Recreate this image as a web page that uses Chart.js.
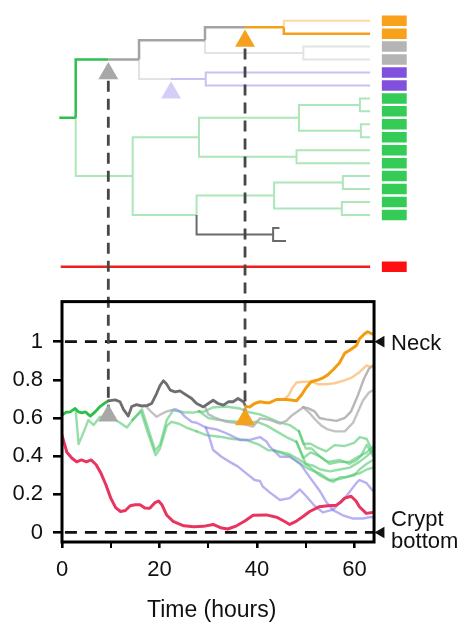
<!DOCTYPE html>
<html><head><meta charset="utf-8">
<script src="https://cdn.jsdelivr.net/npm/chart.js@4.4.1/dist/chart.umd.min.js"></script>
<style>html,body{margin:0;padding:0;background:#fff;overflow:hidden}canvas{display:block}</style>
</head><body>
<canvas id="c" width="474" height="636"></canvas>
<script>
// ================= DATA =================
const X_TICKS = [0, 10, 20, 30, 40, 50, 60];
const X_LABELS = [0, 20, 40, 60];
const Y_TICKS = [0, 0.2, 0.4, 0.6, 0.8, 1];
const REF_LEVELS = [1, 0];
const REF_LABELS = ['Neck', 'Crypt\nbottom'];
const X_TITLE = 'Time (hours)';

// lineage tree: parent index, branching time (h), leaf row, lineage kind
const nodeParent = [-1, 0, 1, 2, 3, 4, 5, 5, 3, 8, 8, 2, 11, 12, 12,
  0, 15, 16, 17, 18, 18, 17, 21, 21, 16, 24, 24, 15, 27, 28, 29, 29, 28, 32, 32, 27, 35, 35];
const nodeTime = [2.81, 9.5, 15.8, 29.33, 37.54, 45.5, 63.2, 63.2, 49.5, 63.2, 63.2, 22.36, 29.48, 63.2, 63.2,
  14.5, 28.1, 48.6, 61.1, 63.2, 63.2, 61.3, 63.2, 63.2, 48.1, 63.2, 63.2, 27.6, 43.5, 57.6, 63.2, 63.2, 57.4, 63.2, 63.2, 43.3, 44.6, 45.95];
const nodeRow = [null, null, null, null, null, null, 0, 1, null, 2, 3, null, null, 4, 5,
  null, null, null, null, 6, 7, null, 8, 9, null, 10, 11, null, null, null, 12, 13, null, 14, 15, null, 16, 17];
const nodeKind = ['dg', 'dg', 'grey', 'grey', 'grey', 'orange', 'lorange', 'orange', 'lgrey', 'lgrey', 'lgrey', 'lgrey', 'lav', 'lav', 'lav',
  'lgreen', 'lgreen', 'lgreen', 'lgreen', 'lgreen', 'lgreen', 'lgreen', 'lgreen', 'lgreen', 'lgreen', 'lgreen', 'lgreen',
  'lgreen', 'lgreen', 'lgreen', 'lgreen', 'lgreen', 'lgreen', 'lgreen', 'lgreen', 'dgrey', 'dgrey', 'dgrey'];
const ROOT_START = -0.55;
const RED_ROW = 19, RED_START = -0.27, RED_END = 63.2;
const TRIANGLE_NODES = [1, 11, 4];        // colour change points (grey, lavender, orange)
const TRIANGLE_KIND = ['grey', 'lav', 'orange'];

// lower panel: relative position along crypt axis vs time
const redTrack = [[0,0.51],[1,0.42],[2,0.39],[3,0.37],[4,0.38],[5,0.37],[6,0.38],[7,0.355],[8,0.31],[9,0.25],[10,0.18],[11,0.13],[12,0.11],[13,0.115],[14,0.14],[15,0.145],[16,0.145],[17,0.128],[18,0.127],[19,0.155],[19.8,0.165],[20.5,0.145],[21.5,0.09],[22.8,0.058],[24,0.045],[25,0.035],[27,0.03],[29,0.032],[31,0.042],[32.5,0.025],[34,0.018],[35.8,0.035],[37.5,0.06],[39.2,0.09],[41.9,0.092],[44,0.08],[45.5,0.06],[46.7,0.042],[48,0.058],[49.5,0.085],[50.8,0.11],[52.8,0.135],[54.5,0.14],[56.2,0.142],[57.2,0.16],[58,0.18],[59.3,0.19],[60.3,0.165],[61,0.135],[62.4,0.10],[63.7,0.105]];
const rootTrack = [[0,0.615],[0.8,0.63],[1.7,0.632],[2.7,0.65],[3.4,0.632],[4.1,0.627],[4.8,0.632],[5.8,0.61],[6.8,0.632],[7.8,0.66],[8.9,0.68],[9.5,0.69]];
const greyTrunk = [[9.5,0.69],[10.9,0.695],[11.9,0.685],[12.6,0.645],[13.6,0.61],[14.3,0.66],[15.3,0.67],[16.4,0.662],[17.4,0.665],[18.4,0.676],[19.4,0.728],[20.1,0.77],[20.8,0.795],[21.4,0.78],[22.2,0.746],[23.2,0.737],[24.2,0.742],[25.2,0.725],[26.6,0.702],[27.6,0.676],[29,0.658],[30,0.676],[31,0.693],[32,0.676],[33.1,0.667],[34.1,0.685],[35.1,0.685],[36.1,0.702],[37.2,0.685],[37.7,0.66]];
const orangeTrack = [[37.7,0.66],[38.5,0.658],[39.5,0.676],[40.6,0.685],[41.9,0.68],[42.6,0.68],[44,0.697],[46,0.697],[48.1,0.69],[49.1,0.72],[50.1,0.76],[51.1,0.79],[52.5,0.80],[53.5,0.81],[54.5,0.826],[55.6,0.853],[56.9,0.888],[58,0.94],[59,0.955],[60.4,0.98],[61,1.015],[62,1.04],[62.7,1.052],[63.7,1.04]];
const lightOrangeTrack = [[45.5,0.697],[46.5,0.72],[47.3,0.76],[48.1,0.786],[49.4,0.79],[51.1,0.79],[52.5,0.777],[54.2,0.777],[55.9,0.782],[57.6,0.795],[59.3,0.81],[61,0.84],[62.4,0.875],[63.6,0.866]];
const paleGreyTrack = [[15.8,0.665],[17,0.667],[18.2,0.635],[19.4,0.606],[20.3,0.62],[21.5,0.635],[22.36,0.64]];
const lavTrunk = [[22.36,0.64],[23.2,0.646],[24.2,0.635],[25.2,0.607],[26.6,0.58],[27.6,0.575],[28.6,0.562],[29.5,0.55]];
const lavTrack1 = [[29.5,0.55],[30.2,0.5],[31,0.432],[32.7,0.397],[34.4,0.37],[36.1,0.345],[37.8,0.31],[39.5,0.275],[40.6,0.27],[41.2,0.24],[42.6,0.21],[44.7,0.17],[46.7,0.18],[48.8,0.225],[50.1,0.19],[51.8,0.14],[53.5,0.105],[55.6,0.12],[58.3,0.19],[60.4,0.26],[61,0.275],[62.4,0.26],[63.7,0.22]];
const lavTrack2 = [[29.5,0.55],[31.7,0.54],[33.7,0.52],[36.5,0.485],[38.5,0.485],[40.6,0.50],[42,0.475],[42.6,0.45],[44.7,0.397],[46.7,0.397],[48.8,0.362],[50.8,0.29],[52.8,0.22],[54.2,0.16],[55.6,0.117],[57.6,0.09],[59.7,0.073],[61.7,0.073],[63.1,0.08],[63.8,0.08]];
const greyTrunk2 = [[29.33,0.66],[30,0.62],[31.5,0.60],[33.7,0.58],[36.5,0.572],[39.2,0.555],[40.6,0.598],[42.6,0.59],[44.7,0.57],[46,0.585],[47,0.61],[49.5,0.656]];
const greyTrackA = [[49.5,0.656],[50.4,0.652],[51.8,0.635],[52.8,0.60],[54.2,0.593],[56.3,0.585],[58,0.60],[59.3,0.635],[60.7,0.72],[62,0.81],[63,0.86],[63.8,0.875]];
const greyTrackB = [[49.5,0.656],[50.8,0.625],[52,0.59],[53.2,0.56],[54.5,0.54],[56,0.53],[58,0.53],[59.7,0.575],[61.7,0.69],[63,0.735],[63.8,0.745]];
const greenEarly = [[2.81,0.64],[3.4,0.463],[4.5,0.53],[5.4,0.589],[6.5,0.563],[7.8,0.606],[9,0.605],[10.3,0.6],[11.9,0.575],[13.3,0.55],[14.5,0.59]];
const greenA1 = [[14.5,0.59],[16.4,0.645],[17.6,0.55],[19.1,0.43],[20.1,0.46],[21.5,0.59],[22.8,0.64],[25,0.63],[27,0.628],[28.1,0.635]];
const greenA2 = [[14.5,0.59],[16.2,0.635],[17.5,0.53],[19.2,0.405],[20.1,0.44],[21.5,0.56],[22.5,0.58],[24,0.57],[25.5,0.55],[27.6,0.53]];
const greenB1 = [[28.1,0.635],[29,0.632],[30.9,0.655],[33.6,0.66],[36.4,0.65],[38.4,0.63],[40.4,0.62],[42.4,0.60],[44.3,0.58],[46.7,0.563],[48.6,0.53]];
const greenB2 = [[28.1,0.635],[30,0.60],[32,0.59],[34,0.585],[36,0.58],[38,0.575],[40,0.58],[42,0.56],[44,0.53],[46,0.50],[48.1,0.475]];
const greenC1 = [[27.6,0.53],[29.6,0.51],[32.3,0.502],[35,0.49],[37.7,0.485],[40.4,0.46],[42.4,0.43],[43.5,0.43]];
const greenD1 = [[48.6,0.53],[49.5,0.465],[51,0.465],[52.5,0.443],[54.2,0.425],[55.9,0.458],[57.9,0.453],[59.9,0.47],[61.1,0.50],[62.5,0.49],[63.8,0.42]];
const greenD2 = [[48.6,0.53],[50,0.44],[51.2,0.44],[52.8,0.40],[54.5,0.37],[56.9,0.38],[59,0.36],[60.5,0.38],[61.3,0.40],[62.5,0.46],[63.8,0.40]];
const greenE1 = [[48.1,0.475],[49.5,0.39],[51,0.42],[52.8,0.40],[54.9,0.36],[56.9,0.37],[59,0.37],[61,0.40],[62.5,0.42],[63.8,0.45]];
const greenE2 = [[48.1,0.475],[50,0.36],[51.5,0.35],[53,0.33],[55,0.32],[57,0.33],[59,0.34],[61,0.37],[62.5,0.40],[63.8,0.43]];
const greenF1 = [[43.5,0.43],[46.7,0.41],[48.8,0.38],[50.5,0.35],[52.8,0.30],[54.2,0.28],[55.6,0.265],[57,0.29],[58.3,0.29],[60,0.30],[61,0.33],[62.5,0.36],[63.8,0.38]];
const greenF2 = [[43.5,0.43],[46.7,0.40],[48.8,0.36],[50.8,0.33],[52.8,0.31],[54.9,0.275],[56.9,0.28],[58.3,0.29],[59.9,0.305],[61,0.31],[62.5,0.33],[63.8,0.34]];
// division markers on lower panel (time, position)
const markerGrey = [9.5, 0.612];
const markerOrange = [37.54, 0.592];

// ================= LAYOUT / STYLE =================
const X_MAX = 84.5, Y_MIN = -0.05, Y_MAX = 2.7385, BOX_RIGHT = 64, BOX_TOP = 1.21;
const TREE_MIN = -0.826, TREE_MAX = 40.25, TRI_DROP = 1.07;
const SQ_FROM = 65.6, SQ_TO = 70.7, ARROW_T = 65.45, LABEL_T = 67.5, TITLE_T = 30.7;
const FONT = "'Liberation Sans', Arial, Helvetica, sans-serif";
const TREE_STYLE = {
  dg: ['#2fbf4d', 2.5, 3], grey: ['#a3a3a3', 2.5, 3], lgrey: ['#e3e3e3', 2, 4], orange: ['#f4a01c', 2.5, 3],
  lorange: ['#fcd9a6', 2, 4], lav: ['#c9c1f4', 2, 4], lgreen: ['#ade6b9', 2, 4], dgrey: ['#6a6a6a', 2, 3], red: ['#f01e1e', 2.5, 3]
};
const SQUARE_COLOR = { orange: '#f9a11b', lorange: '#f9a11b', lgrey: '#b4b4b4', lav: '#8150dd', lgreen: '#35cb57', red: '#ff1010' };
const TRI_COLOR = { grey: '#a8a8a8', lav: '#d6cdf6', orange: '#f6a11e' };
const LGREEN = 'rgba(80,200,110,0.6)';
const LAV = 'rgba(145,135,235,0.65)';
const LOWER = [
  [redTrack, '#e8345e', 3, 1], [orangeTrack, '#f39c12', 3, 1], [greyTrunk, '#6e6e6e', 2.8, 1], [rootTrack, '#2cbf4a', 2.8, 1],
  [lightOrangeTrack, 'rgba(247,176,90,0.65)', 2.4, 2],
  [greyTrackA, 'rgba(165,165,165,0.8)', 2.4, 3], [greyTrackB, 'rgba(180,180,180,0.8)', 2.4, 3], [greyTrunk2, 'rgba(175,175,175,0.8)', 2.4, 3],
  [paleGreyTrack, 'rgba(185,185,185,0.85)', 2.4, 3],
  [lavTrunk, LAV, 2.4, 3], [lavTrack1, LAV, 2.4, 3], [lavTrack2, LAV, 2.4, 3],
  [greenEarly, LGREEN, 2.4, 4], [greenA1, LGREEN, 2.4, 4], [greenA2, LGREEN, 2.4, 4], [greenB1, LGREEN, 2.4, 4], [greenB2, LGREEN, 2.4, 4],
  [greenC1, LGREEN, 2.4, 4], [greenD1, LGREEN, 2.4, 4], [greenD2, LGREEN, 2.4, 4], [greenE1, LGREEN, 2.4, 4], [greenE2, LGREEN, 2.4, 4],
  [greenF1, LGREEN, 2.4, 4], [greenF2, LGREEN, 2.4, 4]
];

// ================= BUILD TREE =================
const children = nodeParent.map(() => []);
nodeParent.forEach((p, i) => { if (p >= 0) children[p].push(i); });
const nodeY = [];
function rowOf(i) {
  if (nodeY[i] !== undefined) return nodeY[i];
  const v = nodeRow[i] !== null ? nodeRow[i] : children[i].reduce((s, c) => s + rowOf(c), 0) / children[i].length;
  nodeY[i] = v; return v;
}
nodeParent.forEach((p, i) => rowOf(i));
const treePts = {};
const addSeg = (kind, pts) => { (treePts[kind] = treePts[kind] || []).push(...pts, { x: pts[pts.length - 1].x, y: null }); };
addSeg('dg', [{ x: ROOT_START, y: nodeY[0] }, { x: nodeTime[0], y: nodeY[0] }]);
nodeParent.forEach((p, i) => {
  if (p < 0) return;
  addSeg(nodeKind[i], [{ x: nodeTime[p], y: nodeY[p] }, { x: nodeTime[p], y: nodeY[i] }, { x: nodeTime[i], y: nodeY[i] }]);
});
addSeg('red', [{ x: RED_START, y: RED_ROW }, { x: RED_END, y: RED_ROW }]);
const sqPts = {};
nodeParent.forEach((p, i) => {
  const c = SQUARE_COLOR[nodeKind[i]];
  if (nodeRow[i] === null || !c) return;
  (sqPts[c] = sqPts[c] || []).push({ x: SQ_FROM, y: nodeRow[i] }, { x: SQ_TO, y: nodeRow[i] }, { x: SQ_TO, y: null });
});
sqPts[SQUARE_COLOR.red] = (sqPts[SQUARE_COLOR.red] || []).concat([{ x: SQ_FROM, y: RED_ROW }, { x: SQ_TO, y: RED_ROW }]);

const datasets = [];
Object.keys(treePts).forEach(k => {
  const [c, w, o] = TREE_STYLE[k];
  datasets.push({ type: 'line', data: treePts[k], yAxisID: 'yt', borderColor: c, borderWidth: w, order: o + 2,
    pointRadius: 0, spanGaps: false, clip: false, borderCapStyle: 'butt', borderJoinStyle: 'miter' });
});
Object.keys(sqPts).forEach(c => {
  datasets.push({ type: 'line', data: sqPts[c], yAxisID: 'yt', borderColor: c, borderWidth: 10.5, order: 3,
    pointRadius: 0, spanGaps: false, clip: false, borderCapStyle: 'butt' });
});
LOWER.forEach(([arr, c, w, o]) => {
  datasets.push({ type: 'line', data: arr.map(([x, y]) => ({ x, y })), yAxisID: 'y', borderColor: c, borderWidth: w, order: o,
    pointRadius: 0, tension: 0, borderJoinStyle: 'round', borderCapStyle: 'round' });
});
REF_LEVELS.forEach(v => {
  datasets.push({ type: 'line', data: [{ x: 0.6, y: v }, { x: BOX_RIGHT, y: v }], yAxisID: 'y', borderColor: '#111', borderWidth: 2.8,
    borderDash: [12, 8], pointRadius: 0, order: 2, borderCapStyle: 'butt' });
});
datasets.push({ id: 'arrows', type: 'scatter', data: REF_LEVELS.map(v => ({ x: ARROW_T, y: v })), yAxisID: 'y',
  pointStyle: 'triangle', rotation: -90, pointRadius: 6.7, backgroundColor: '#111', borderWidth: 0, order: 0, clip: false });
datasets.push({ id: 'treeTri', type: 'scatter', data: TRIANGLE_NODES.map(n => ({ x: nodeTime[n], y: nodeY[n] + TRI_DROP })), yAxisID: 'yt',
  pointStyle: 'triangle', pointRadius: 11.5, backgroundColor: TRIANGLE_KIND.map(k => TRI_COLOR[k]), borderWidth: 0, order: 0, clip: false });
datasets.push({ id: 'lowTri', type: 'scatter', data: [markerGrey, markerOrange].map(([x, y]) => ({ x, y })), yAxisID: 'y',
  pointStyle: 'triangle', pointRadius: 11.5, backgroundColor: [TRI_COLOR.grey, TRI_COLOR.orange], borderWidth: 0, order: 0, clip: false });

// connectors: dashed lines from lower markers up to tree markers
const connectors = [[markerGrey, 1], [markerOrange, 4]];
const overlay = {
  id: 'overlay',
  beforeDatasetDraw(chart, args) {
    if (chart.data.datasets[args.index].id !== 'lowTri') return;
    const { ctx, scales: { x, y, yt } } = chart;
    ctx.save(); ctx.strokeStyle = '#474747'; ctx.lineWidth = 2.8; ctx.setLineDash([11, 7]);
    connectors.forEach(([m, n]) => {
      const px = x.getPixelForValue(m[0]);
      ctx.beginPath(); ctx.moveTo(px, y.getPixelForValue(m[1])); ctx.lineTo(px, yt.getPixelForValue(nodeY[n] + TRI_DROP)); ctx.stroke();
    });
    ctx.restore();
  },
  afterDatasetsDraw(chart) {
    const { ctx, scales: { x, y } } = chart;
    ctx.save(); ctx.strokeStyle = '#000'; ctx.lineWidth = 3;
    const l = x.getPixelForValue(0), r = x.getPixelForValue(BOX_RIGHT), t = y.getPixelForValue(BOX_TOP), b = y.getPixelForValue(Y_MIN);
    ctx.strokeRect(l, t, r - l, b - t);
    ctx.restore();
  },
  afterDraw(chart) {
    const { ctx, scales: { x, y } } = chart;
    ctx.save(); ctx.fillStyle = '#111'; ctx.textAlign = 'left'; ctx.textBaseline = 'alphabetic';
    ctx.font = '22px ' + FONT;
    REF_LABELS.forEach((lab, i) => {
      const lines = lab.split('\n');
      const py = y.getPixelForValue(REF_LEVELS[i]);
      const start = py + 8 - (lines.length - 1) * 14.5;
      lines.forEach((ln, j) => ctx.fillText(ln, x.getPixelForValue(LABEL_T), start + j * 22));
    });
    ctx.font = '23px ' + FONT; ctx.textAlign = 'center';
    ctx.fillText(X_TITLE, x.getPixelForValue(TITLE_T), chart.chartArea.bottom + 75);
    ctx.restore();
  }
};

new Chart(document.getElementById('c'), {
  type: 'line',
  data: { datasets },
  options: {
    responsive: false, animation: false, events: [],
    layout: { padding: { top: 10, left: 0, right: 0, bottom: 0 }, autoPadding: false },
    plugins: { legend: { display: false }, tooltip: { enabled: false } },
    scales: {
      x: { type: 'linear', min: 0, max: X_MAX,
        afterBuildTicks: s => { s.ticks = X_TICKS.map(v => ({ value: v })); },
        afterFit: s => { s.height = 94; s.paddingLeft = 0; s.paddingRight = 0; },
        border: { display: false },
        grid: { drawOnChartArea: false, drawTicks: true, tickLength: 6, color: '#000',
          lineWidth: c => (X_LABELS.includes(c.tick && c.tick.value) ? 2.6 : 2) },
        ticks: { autoSkip: false, maxRotation: 0, padding: 9, color: '#111', font: { family: FONT, size: 22 },
          callback: v => (X_LABELS.includes(v) ? String(v) : '') } },
      y: { type: 'linear', min: Y_MIN, max: Y_MAX, position: 'left',
        afterBuildTicks: s => { s.ticks = Y_TICKS.map(v => ({ value: v })); },
        afterFit: s => { s.width = 62; s.paddingTop = 0; s.paddingBottom = 0; },
        border: { display: false },
        grid: { drawOnChartArea: false, drawTicks: true, tickLength: 9, color: '#000', lineWidth: 2.6 },
        ticks: { padding: 10, color: '#111', font: { family: FONT, size: 22 }, callback: v => String(Math.round(v * 10) / 10) } },
      yt: { type: 'linear', min: TREE_MIN, max: TREE_MAX, reverse: true, display: false }
    }
  },
  plugins: [overlay]
});
</script>
</body></html>
